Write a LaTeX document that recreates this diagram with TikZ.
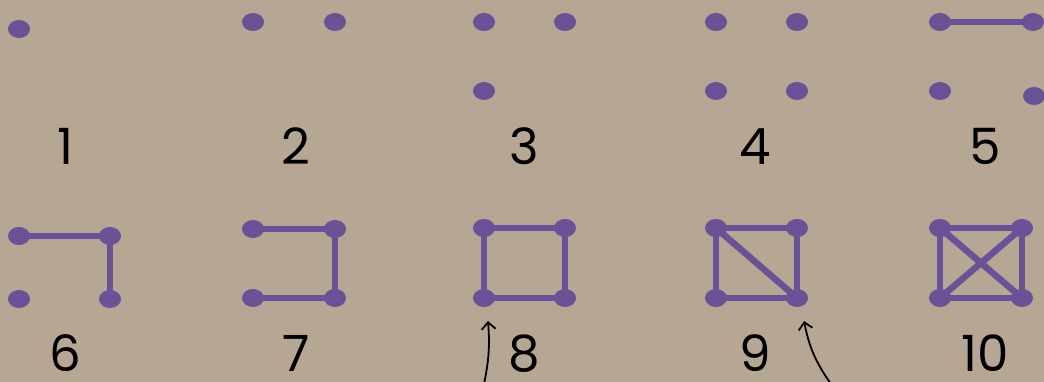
\documentclass[tikz,border=0pt]{standalone}
\usepackage{fontspec}
\setmainfont{Poppins}
\usetikzlibrary{shapes.geometric,arrows.meta}
\definecolor{board}{RGB}{181,167,148}
\definecolor{chalk}{RGB}{106,82,150}
\tikzset{
  dot/.style={ellipse, fill=chalk, inner sep=0pt, minimum width=22pt, minimum height=18pt},
  edge/.style={draw=chalk, line width=6.5pt, line cap=round},
  numlabel/.style={font=\fontsize{50}{50}\selectfont, text=black, anchor=base, inner sep=0pt},
  pointer/.style={draw=black, line width=1.8pt, -{Straight Barb[length=7pt,width=14pt]}}
}
\begin{document}
\begin{tikzpicture}[x=1pt, y=-1pt]
        \fill[board] (0,0) rectangle (1044,382);
        \useasboundingbox (0,0) rectangle (1044,382);
        % top row
        \node[dot] (a1) at (19,29) {};
        \node[numlabel] (n1) at (65,165) {1};
        \node[dot] (b1) at (253,22) {};
        \node[dot] (b2) at (335,22) {};
        \node[numlabel] (n2) at (296,165) {2};
        \node[dot] (c1) at (484,22) {};
        \node[dot] (c2) at (565,22) {};
        \node[dot] (c3) at (484,91) {};
        \node[numlabel] (n3) at (524,165) {3};
        \node[dot] (d1) at (716,22) {};
        \node[dot] (d2) at (797,22) {};
        \node[dot] (d3) at (716,91) {};
        \node[dot] (d4) at (797,91) {};
        \node[numlabel] (n4) at (755,165) {4};
        \node[dot] (e1) at (940,22) {};
        \node[dot] (e2) at (1033,22) {};
        \node[dot] (e3) at (940,91) {};
        \node[dot] (e4) at (1034,96) {};
        \node[numlabel] (n5) at (985,165) {5};
        \draw[edge] (e1.center) -- (e2.center);
        % bottom row
        \node[dot] (f1) at (19,236) {};
        \node[dot] (f2) at (110,236) {};
        \node[dot] (f3) at (19,299) {};
        \node[dot] (f4) at (110,299) {};
        \node[numlabel] (n6) at (65,371) {6};
        \draw[edge] (f1.center) -- (f2.center) -- (f4.center);
        \node[dot] (g1) at (253,229) {};
        \node[dot] (g2) at (335,229) {};
        \node[dot] (g3) at (253,298) {};
        \node[dot] (g4) at (335,298) {};
        \node[numlabel] (n7) at (296,371) {7};
        \draw[edge] (g1.center) -- (g2.center) -- (g4.center) -- (g3.center);
        \node[dot] (h1) at (484,228) {};
        \node[dot] (h2) at (565,228) {};
        \node[dot] (h3) at (484,298) {};
        \node[dot] (h4) at (565,298) {};
        \node[numlabel] (n8) at (524,371) {8};
        \draw[edge] (h1.center) -- (h2.center) -- (h4.center) -- (h3.center) -- cycle;
        \node[dot] (i1) at (716,228) {};
        \node[dot] (i2) at (797,228) {};
        \node[dot] (i3) at (716,298) {};
        \node[dot] (i4) at (797,298) {};
        \node[numlabel] (n9) at (755,371) {9};
        \draw[edge] (i1.center) -- (i2.center) -- (i4.center) -- (i3.center) -- cycle;
        \draw[edge] (i1.center) -- (i4.center);
        \node[dot] (j1) at (940,228) {};
        \node[dot] (j2) at (1022,228) {};
        \node[dot] (j3) at (940,298) {};
        \node[dot] (j4) at (1022,298) {};
        \node[numlabel] (n10) at (985,371) {10};
        \draw[edge] (j1.center) -- (j2.center) -- (j4.center) -- (j3.center) -- cycle;
        \draw[edge] (j1.center) -- (j4.center);
        \draw[edge] (j2.center) -- (j3.center);
        % pointers
        \coordinate (t8) at (484,384);
        \coordinate (t9) at (831,384);
        \draw[pointer] (t8) to[bend right=8] (488,321);
        \draw[pointer] (t9) to[bend left=12] (804,321);
\end{tikzpicture}
\end{document}
